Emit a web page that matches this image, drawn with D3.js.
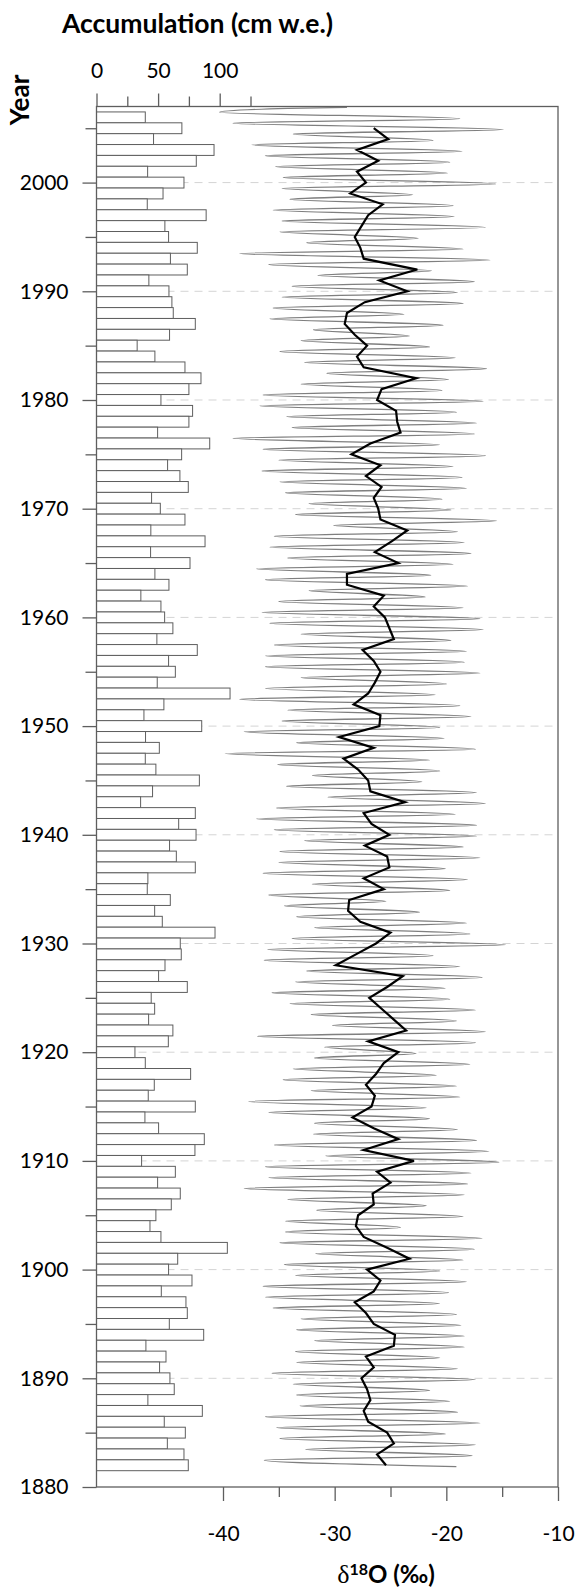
<!DOCTYPE html>
<html>
<head>
<meta charset="utf-8">
<script src="https://cdn.jsdelivr.net/npm/d3@7"></script>
<style>
	body { margin: 0; background: #fff; }
	svg { display: block; font-family: Lato, 'Open Sans', sans-serif; }
</style>
</head>
<body>
<div class="ice_core"></div>
<script>
const WIDTH = 576;
const HEIGHT = 1590;
const PLOT = { top: 106.5, bottom: 1487, left: 96.5, right: 558 };

// annual accumulation, cm w.e., 2006 -> 1882
const accYears = d3.range(2006, 1881, -1);
const accumulation = [
	39.6, 69.3, 46.3, 95.4, 81, 41.5, 71, 54, 41.2, 89,
	55.5, 58.5, 81.8, 60, 73.7, 42.5, 58.8, 61.2, 62.3, 80.2,
	59.3, 33, 47.4, 71.8, 84.8, 75, 52.3, 78, 75, 49.6,
	91.9, 69.1, 57.7, 67.7, 74.5, 44.7, 51.8, 71.8, 44.1, 88.1,
	43.9, 75.9, 47.4, 58.8, 36, 52.3, 55.3, 62, 49, 81.8,
	58.5, 64, 49.3, 108.4, 54.7, 38.5, 85.4, 39.8, 51, 39.6,
	48.2, 83.5, 45.5, 35.8, 80.2, 66.7, 80.8, 59.3, 64.8, 80.2,
	41.7, 41.2, 59.9, 47.2, 53.4, 96.2, 68, 68.8, 55.6, 50.4,
	73.7, 44.4, 47.2, 42.3, 62, 58.3, 31.2, 39.6, 76.4, 46.9,
	42, 80.2, 39.3, 50.4, 87.5, 79.9, 36.6, 64, 49.6, 68,
	60.7, 48.2, 43.4, 52.3, 106.2, 65.9, 58.5, 77.5, 52.6, 72.6,
	73.7, 59.1, 87, 40.1, 56.4, 51.2, 59.6, 63.1, 41.7, 85.9,
	55, 72.1, 57.5, 71, 74.5
];

// seasonal d18O: summer peaks (2006 -> 1882) and winter troughs (2007 -> 1883)
const summerYears = d3.range(2006, 1881, -1);
const summerPeak = [
	-18.8, -14.9, -21.2, -18.6, -19.7, -19.9, -15.6, -23.0, -19.4, -19.3,
	-16.5, -22.5, -18.5, -16.1, -21.3, -17.5, -19.0, -18.5, -23.8, -20.3,
	-23.3, -21.5, -19.2, -16.4, -19.8, -20.4, -16.7, -19.1, -17.3, -17.5,
	-20.6, -16.5, -19.4, -18.6, -18.2, -20.4, -19.6, -15.5, -19.0, -18.4,
	-17.8, -19.4, -21.4, -18.1, -21.9, -18.5, -17.0, -16.7, -19.6, -18.2,
	-18.4, -17.0, -20.0, -21.0, -18.8, -17.8, -20.6, -20.2, -17.4, -21.5,
	-20.6, -22.2, -17.3, -16.5, -19.2, -17.3, -17.3, -18.5, -17.0, -20.1,
	-18.1, -19.7, -25.4, -22.4, -18.2, -17.9, -14.7, -21.2, -18.8, -16.8,
	-20.1, -19.7, -17.4, -19.1, -16.5, -17.4, -22.7, -17.9, -20.9, -19.1,
	-18.8, -21.8, -21.5, -19.0, -17.3, -16.2, -15.3, -17.8, -18.1, -18.4,
	-21.8, -18.5, -24.1, -16.8, -17.5, -18.5, -20.6, -18.2, -19.8, -20.6,
	-19.1, -18.7, -18.4, -18.4, -20.6, -19.0, -17.4, -21.5, -19.7, -19.0,
	-17.0, -20.1, -17.4, -17.7, -19.1
];
const winterYears = d3.range(2007, 1882, -1);
const winterTrough = [
	-40.3, -39.1, -33.7, -37.4, -36.2, -35.3, -34.6, -34.7, -34.0, -35.5,
	-34.7, -34.9, -32.5, -38.5, -35.9, -31.5, -33.8, -34.7, -35.5, -35.8,
	-31.9, -33.0, -34.9, -32.7, -30.7, -33.0, -36.4, -36.7, -34.3, -33.8,
	-39.1, -36.4, -35.0, -36.5, -34.9, -34.4, -32.3, -33.5, -30.1, -35.4,
	-35.8, -34.2, -37.0, -36.2, -32.3, -35.0, -36.5, -35.8, -33.0, -35.4,
	-36.2, -36.2, -33.0, -36.2, -38.5, -34.2, -34.7, -38.1, -33.4, -39.8,
	-35.1, -32.0, -34.3, -30.6, -35.2, -37.0, -35.4, -32.7, -34.9, -35.0,
	-36.4, -32.0, -35.9, -34.5, -33.4, -31.8, -33.8, -36.0, -36.3, -32.5,
	-33.5, -35.6, -34.0, -32.1, -30.2, -36.9, -30.9, -31.8, -33.7, -34.6,
	-32.1, -37.7, -35.9, -31.8, -31.9, -35.4, -30.8, -36.2, -35.9, -38.1,
	-34.2, -31.6, -34.4, -34.4, -34.9, -31.7, -34.5, -33.5, -36.4, -36.2,
	-35.5, -33.0, -33.4, -31.8, -33.5, -33.4, -35.6, -33.7, -33.4, -33.1,
	-36.2, -35.2, -34.9, -32.6, -36.3
];
// first samples at the top of the core, [year, d18O]
const coreTop = [[2006.92, -28.9], [2006.83, -34.2]];

// annual mean d18O, 2005 -> 1882
const meanYears = d3.range(2005, 1881, -1);
const annualMean = [
	-26.5, -25.2, -28.0, -26.1, -28.0, -27.2, -28.6, -25.7, -27.0, -27.6,
	-28.2, -27.7, -27.4, -22.6, -26.0, -23.5, -27.3, -28.9, -29.1, -28.2,
	-27.1, -28.0, -27.4, -22.7, -25.8, -26.2, -24.5, -24.4, -24.1, -26.8,
	-28.5, -25.9, -27.2, -25.8, -26.5, -26.1, -25.9, -23.5, -24.9, -26.4,
	-24.3, -28.9, -28.9, -25.6, -26.5, -25.5, -25.1, -24.7, -27.5, -26.5,
	-25.9, -26.4, -27.0, -28.3, -25.9, -26.0, -29.6, -26.5, -29.2, -27.9,
	-27.0, -26.8, -23.7, -27.4, -26.7, -25.1, -27.3, -25.3, -25.1, -27.4,
	-25.6, -28.7, -28.8, -27.7, -25.0, -26.3, -28.1, -29.9, -23.9, -25.3,
	-26.9, -25.8, -24.7, -23.6, -27.0, -24.3, -25.6, -26.3, -27.2, -26.4,
	-26.7, -28.4, -26.5, -24.3, -27.4, -22.9, -26.2, -25.0, -26.6, -26.5,
	-27.9, -28.1, -27.4, -25.3, -23.3, -27.1, -25.9, -26.5, -28.2, -27.2,
	-26.5, -24.6, -24.7, -27.2, -26.5, -27.6, -27.1, -26.8, -27.4, -27.0,
	-25.3, -24.7, -26.2, -25.4
];

const yearTicks = d3.range(1880, 2010, 5);
const accTicks = [0, 25, 50, 75, 100, 125];
const isoTicks = [-40, -35, -30, -25, -20, -15, -10];

const AXIS_COLOR = '#5e5e5e';

const svg = d3
	.select('.ice_core')
	.append('svg')
	.attr('width', WIDTH)
	.attr('height', HEIGHT);

drawCore();

function drawCore() {
	const yScale = d3.scaleLinear().domain([1880, 2007]).range([PLOT.bottom, PLOT.top]);
	const accScale = d3.scaleLinear().domain([0, 100]).range([PLOT.left, 219.7]);
	const isoScale = d3.scaleLinear().domain([-40, -10]).range([223, PLOT.right]);

	// dashed decade lines
	svg.append('g')
		.selectAll('line')
		.data(yearTicks.filter(d => d % 10 === 0 && d > 1880))
		.enter()
		.append('line')
		.attr('x1', PLOT.left)
		.attr('x2', PLOT.right)
		.attr('y1', d => yScale(d))
		.attr('y2', d => yScale(d))
		.attr('stroke', '#d4d4d4')
		.attr('stroke-width', 1)
		.attr('stroke-dasharray', '8,6');

	// accumulation bars
	svg.append('g')
		.selectAll('rect')
		.data(accYears)
		.enter()
		.append('rect')
		.attr('x', accScale(0))
		.attr('y', d => yScale(d + 0.5))
		.attr('width', (d, i) => accScale(accumulation[i]) - accScale(0))
		.attr('height', d => yScale(d - 0.5) - yScale(d + 0.5))
		.attr('fill', '#fff')
		.attr('stroke', AXIS_COLOR)
		.attr('stroke-width', 1);

	// seasonal d18O record: trough then peak, year by year
	let seasonal = coreTop.slice();
	winterYears.forEach((yr, i) => {
		seasonal.push([yr - 0.53, winterTrough[i]]);
		seasonal.push([summerYears[i] - 0.12, summerPeak[i]]);
	});

	const seasonalLine = d3
		.line()
		.curve(d3.curveMonotoneY)
		.x(d => isoScale(d[1]))
		.y(d => yScale(d[0]));

	const line = d3
		.line()
		.x(d => isoScale(d[1]))
		.y(d => yScale(d[0]));

	svg.append('path')
		.datum(seasonal)
		.attr('d', seasonalLine)
		.attr('fill', 'none')
		.attr('stroke', '#7f7f7f')
		.attr('stroke-width', 1.3);

	// annual mean
	svg.append('path')
		.datum(meanYears.map((yr, i) => [yr, annualMean[i]]))
		.attr('d', line)
		.attr('fill', 'none')
		.attr('stroke', '#000')
		.attr('stroke-width', 2.2);

	// frame
	svg.append('rect')
		.attr('x', PLOT.left)
		.attr('y', PLOT.top)
		.attr('width', PLOT.right - PLOT.left)
		.attr('height', PLOT.bottom - PLOT.top)
		.attr('fill', 'none')
		.attr('stroke', AXIS_COLOR)
		.attr('stroke-width', 1.3);

	// year axis
	let yAxis = d3
		.axisLeft(yScale)
		.tickValues(yearTicks)
		.tickSize(14)
		.tickPadding(14)
		.tickFormat(d => (d % 10 === 0 ? d : ''));

	let yG = svg.append('g')
		.attr('transform', `translate(${PLOT.left}, 0)`)
		.call(yAxis);
	yG.selectAll('.tick')
		.filter(d => d % 10 !== 0)
		.select('line')
		.attr('x2', -11);

	// accumulation axis
	let accAxis = d3
		.axisTop(accScale)
		.tickValues(accTicks)
		.tickSize(13)
		.tickPadding(16)
		.tickFormat(d => (d % 50 === 0 ? d : ''));

	let accG = svg.append('g')
		.attr('transform', `translate(0, ${PLOT.top})`)
		.call(accAxis);
	accG.selectAll('.tick')
		.filter(d => d % 50 !== 0)
		.select('line')
		.attr('y2', -10);

	// d18O axis
	let isoAxis = d3
		.axisBottom(isoScale)
		.tickValues(isoTicks)
		.tickSize(14)
		.tickPadding(25)
		.tickFormat(d => (d % 10 === 0 ? d : ''));

	let isoG = svg.append('g')
		.attr('transform', `translate(0, ${PLOT.bottom})`)
		.call(isoAxis);
	isoG.selectAll('.tick')
		.filter(d => d % 10 !== 0)
		.select('line')
		.attr('y2', 10);

	[yG, accG, isoG].forEach(g => {
		g.select('.domain').remove();
		g.selectAll('line').attr('stroke', AXIS_COLOR).attr('stroke-width', 1.3);
		g.selectAll('text')
			.attr('fill', '#000')
			.style('font-family', 'Lato, sans-serif')
			.style('font-size', '21px');
	});

	// titles
	svg.append('text')
		.attr('x', 62)
		.attr('y', 33)
		.style('font-size', '26.5px')
		.style('font-weight', 'bold')
		.text('Accumulation (cm w.e.)');

	svg.append('text')
		.attr('transform', 'rotate(-90)')
		.attr('x', -100)
		.attr('y', 29)
		.attr('text-anchor', 'middle')
		.style('font-size', '26px')
		.style('font-weight', 'bold')
		.text('Year');

	let isoTitle = svg.append('text')
		.attr('x', 386)
		.attr('y', 1583)
		.attr('text-anchor', 'middle')
		.style('font-size', '24px')
		.style('font-weight', 'bold');
	isoTitle.append('tspan')
		.style('font-family', "'Liberation Serif', serif")
		.style('font-weight', 'normal')
		.style('font-size', '26px')
		.text('δ');
	isoTitle.append('tspan')
		.attr('dy', -8)
		.style('font-size', '16px')
		.text('18');
	isoTitle.append('tspan')
		.attr('dy', 8)
		.text('O (‰)');
}
</script>
</body>
</html>
